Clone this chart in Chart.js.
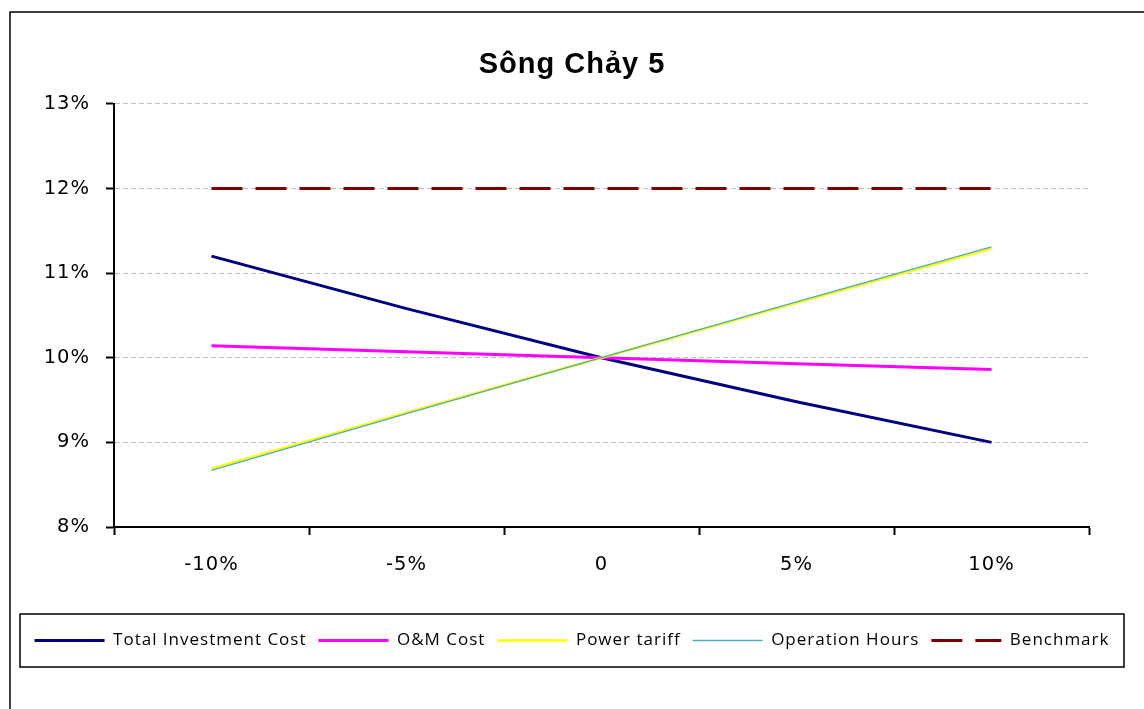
<!DOCTYPE html>
<html>
<head>
<meta charset="utf-8">
<script src="https://cdn.jsdelivr.net/npm/chart.js@4/dist/chart.umd.min.js"></script>
<style>
  html, body { margin: 0; padding: 0; background: #fff; }
  #wrap { width: 1144px; height: 709px; position: relative; }
</style>
</head>
<body>
<div id="wrap"><canvas id="chart_songChay5"></canvas></div>
<script>
// values (IRR in %)
var categories = ['-10%', '-5%', '0', '5%', '10%'];
var totalInvestmentCost = [11.20, 10.58, 10.00, 9.48, 9.00];
var omCost = [10.14, 10.07, 10.00, 9.93, 9.86];
var powerTariff = [8.69, 9.35, 10.00, 10.65, 11.29];
var operationHours = [8.67, 9.34, 10.00, 10.66, 11.31];
var benchmark = [12, 12, 12, 12, 12];
var yMin = 8, yMax = 13, yStep = 1;

Chart.defaults.color = '#000';

var chart_songChay5 = new Chart(document.getElementById('chart_songChay5'), {
    type: 'line',
    data: {
        labels: categories,
        datasets: [
            { label: 'Total Investment Cost', data: totalInvestmentCost, borderColor: '#000080', borderWidth: 3, order: 5 },
            { label: 'O&M Cost', data: omCost, borderColor: '#ff00ff', borderWidth: 3, order: 4 },
            { label: 'Power tariff', data: powerTariff, borderColor: '#ffff00', borderWidth: 2.5, order: 3 },
            { label: 'Operation Hours', data: operationHours, borderColor: '#4bacc6', borderWidth: 1.3, order: 2 },
            { label: 'Benchmark', data: benchmark, borderColor: '#800000', borderWidth: 3, borderDash: [31, 13], order: 1 }
        ]
    },
    options: {
        animation: false,
        responsive: true,
        maintainAspectRatio: false,
        devicePixelRatio: 1,
        elements: {
            point: { radius: 0, hoverRadius: 0 },
            line: { tension: 0, fill: false }
        },
        layout: { padding: { top: 13, left: 20, right: 20, bottom: 50 } },
        plugins: {
            tooltip: { enabled: false },
            title: {
                display: true,
                text: 'Sông Chảy 5',
                color: '#000',
                font: { family: '"Liberation Sans", Arial, sans-serif', size: 29, weight: 'bold' },
                padding: { top: 35, bottom: 21 }
            },
            legend: {
                position: 'bottom',
                labels: {
                    usePointStyle: true,
                    pointStyle: 'line',
                    pointStyleWidth: 70,
                    padding: 12,
                    color: '#000',
                    font: { family: '"Open Sans", sans-serif', size: 17 },
                    sort: function (a, b) { return a.datasetIndex - b.datasetIndex; },
                    generateLabels: function (chart) {
                        var items = Chart.defaults.plugins.legend.labels.generateLabels(chart);
                        items.forEach(function (it) {
                            var ds = chart.data.datasets[it.datasetIndex];
                            it.lineDash = ds.borderDash || [];
                            it.lineWidth = ds.borderWidth;
                            it.strokeStyle = ds.borderColor;
                        });
                        return items;
                    }
                }
            }
        },
        scales: {
            x: {
                offset: true,
                grid: { display: true, drawOnChartArea: false, drawTicks: true, tickLength: 8, tickColor: '#000', tickWidth: 2, offset: true },
                border: { display: true, color: '#000', width: 2 },
                ticks: { padding: 18, font: { family: '"DejaVu Sans", Verdana, sans-serif', size: 19.5 } },
                afterFit: function (scale) { scale.height = 93; }
            },
            y: {
                min: yMin,
                max: yMax,
                grid: { color: '#c0c0c0', lineWidth: 1, tickLength: 8, tickColor: '#000', tickWidth: 2 },
                border: { display: true, color: '#000', width: 2, dash: [5, 3] },
                ticks: {
                    stepSize: yStep,
                    padding: 16,
                    font: { family: '"DejaVu Sans", Verdana, sans-serif', size: 19.5 },
                    callback: function (v) { return v + '%'; }
                },
                afterFit: function (scale) { scale.width = 94; }
            },
            yPad: {
                position: 'right',
                display: true,
                grid: { display: false, drawTicks: false },
                border: { display: false },
                ticks: { display: false },
                afterFit: function (scale) { scale.width = 35; }
            }
        }
    },
    plugins: [{
        id: 'excelLook',
        beforeLayout: function (chart) {
            chart.ctx.letterSpacing = '1px';
        },
        beforeDraw: function (chart) {
            var ctx = chart.ctx;
            ctx.save();
            ctx.fillStyle = 'white';
            ctx.fillRect(0, 0, chart.width, chart.height);
            ctx.restore();
            ctx.letterSpacing = '1px';
        },
        afterDraw: function (chart) {
            var ctx = chart.ctx;
            var lg = chart.legend;
            ctx.save();
            ctx.strokeStyle = '#000';
            ctx.lineWidth = 1.5;
            ctx.strokeRect(10, 12, chart.width + 10, chart.height + 10);
            ctx.strokeRect(lg.left, lg.top - 6, lg.width, lg.height + 14);
            ctx.restore();
        }
    }]
});
</script>
</body>
</html>
